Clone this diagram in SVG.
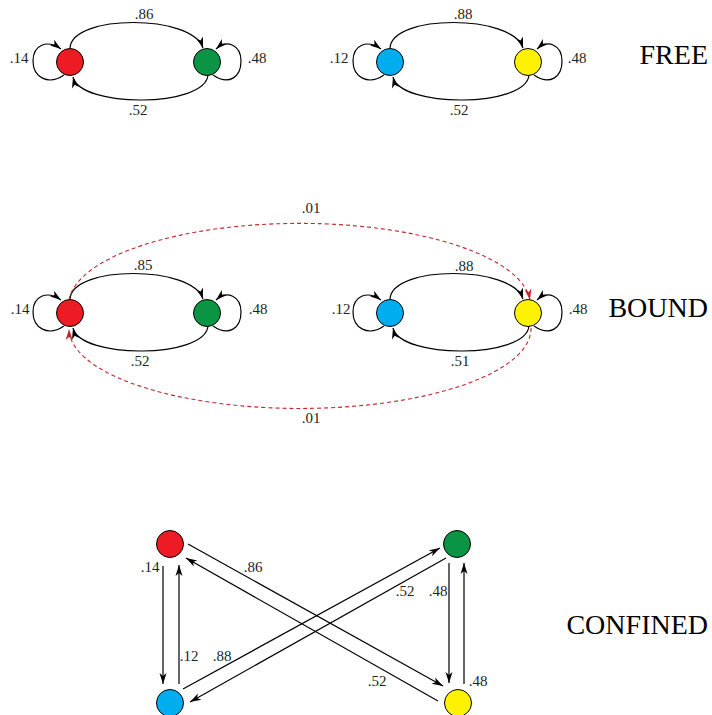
<svg xmlns="http://www.w3.org/2000/svg" width="712" height="715" viewBox="0 0 712 715">
<defs>
<style>
.n{stroke:#000;stroke-width:1}
.r{fill:#ed1c24}.g{fill:#0b9444}.b{fill:#00aeef}.y{fill:#fff200}
.c{fill:none;stroke:#000;stroke-width:1.2;marker-end:url(#ah)}
.d{fill:none;stroke:#c1272d;stroke-width:1.1;stroke-dasharray:4 3;marker-end:url(#ahr)}
.l{font-size:15px;fill:#231f20;text-anchor:middle}
.t{font-size:28px;fill:#000;text-anchor:end}
</style>
<marker id="ah" markerUnits="userSpaceOnUse" markerWidth="12" markerHeight="8" refX="11" refY="3.5" orient="auto" overflow="visible">
<path d="M0,0 L11,3.5 L0,7 L3,3.5 Z" fill="#000"/>
</marker>
<marker id="ahr" markerUnits="userSpaceOnUse" markerWidth="12" markerHeight="8" refX="11" refY="3.5" orient="auto" overflow="visible">
<path d="M0,0 L11,3.5 L0,7 L3,3.5 Z" fill="#c1272d"/>
</marker>
</defs>
<rect width="712" height="715" fill="#fff"/>

<g id="connectors">
<path class="c" d="M70,48 C72,14 192,14 203,48"/>
<path class="c" d="M208,75 C205,108 80,108 73,77"/>
<path class="c" d="M64,75 C48,86 33,77 33,61 C33,45 47,39 61,49"/>
<path class="c" d="M213,75 C229,86 241,77 241,61 C241,45 227,39 216,49"/>
<path class="c" d="M390,48 C392,14 512,14 523,48"/>
<path class="c" d="M529,75 C526,108 400,108 393,77"/>
<path class="c" d="M384,75 C368,86 353,77 353,61 C353,45 367,39 381,49"/>
<path class="c" d="M534,75 C550,86 562,77 562,61 C562,45 548,39 537,49"/>
<path class="c" d="M70,299 C72,265 192,265 203,299"/>
<path class="c" d="M208,326 C205,359 80,359 73,328"/>
<path class="c" d="M64,326 C48,337 33,328 33,312 C33,296 47,290 61,300"/>
<path class="c" d="M213,326 C229,337 241,328 241,312 C241,296 227,290 216,300"/>
<path class="c" d="M390,299 C392,265 512,265 523,299"/>
<path class="c" d="M529,326 C526,359 400,359 393,328"/>
<path class="c" d="M384,326 C368,337 353,328 353,312 C353,296 367,290 381,300"/>
<path class="c" d="M534,326 C550,337 562,328 562,312 C562,296 548,290 537,300"/>
<path class="d" d="M69,300 A231,82 0 0 1 530,300"/>
<path class="d" d="M531,328 A231,80 0 0 1 69,329"/>
<path class="c" d="M163,566 L163,684"/>
<path class="c" d="M179,684 L179,565"/>
<path class="c" d="M449,563 L449,683"/>
<path class="c" d="M464,684 L464,563"/>
<path class="c" d="M188,544 L443,686"/>
<path class="c" d="M438,701 L186,558"/>
<path class="c" d="M183,689 L440,548"/>
<path class="c" d="M446,558 L190,702"/>
</g>

<g id="free">
<g id="free-red"><circle class="n r" cx="70" cy="62" r="13.5"/></g>
<g id="free-green"><circle class="n g" cx="207" cy="62" r="13.5"/></g>
<g id="free-blue"><circle class="n b" cx="390" cy="62" r="13.5"/></g>
<g id="free-yellow"><circle class="n y" cx="528" cy="62" r="13.5"/></g>
</g>
<g id="bound">
<g id="bound-red"><circle class="n r" cx="70" cy="313" r="13.5"/></g>
<g id="bound-green"><circle class="n g" cx="207" cy="313" r="13.5"/></g>
<g id="bound-blue"><circle class="n b" cx="390" cy="313" r="13.5"/></g>
<g id="bound-yellow"><circle class="n y" cx="528" cy="313" r="13.5"/></g>
</g>
<g id="confined">
<g id="conf-red"><circle class="n r" cx="170" cy="544" r="13.5"/></g>
<g id="conf-green"><circle class="n g" cx="457" cy="544" r="13.5"/></g>
<g id="conf-blue"><circle class="n b" cx="170" cy="703" r="13.5"/></g>
<g id="conf-yellow"><circle class="n y" cx="458" cy="703" r="13.5"/></g>
</g>

<g id="labels" font-family="'Liberation Serif', 'DejaVu Serif', 'Times New Roman', serif">
<text class="l" x="144" y="19">.86</text>
<text class="l" x="138" y="115">.52</text>
<text class="l" x="19" y="63">.14</text>
<text class="l" x="257" y="63">.48</text>
<text class="l" x="339" y="63">.12</text>
<text class="l" x="463" y="19">.88</text>
<text class="l" x="459" y="115">.52</text>
<text class="l" x="577" y="63">.48</text>
<text class="l" x="311" y="213">.01</text>
<text class="l" x="143" y="270">.85</text>
<text class="l" x="20" y="314">.14</text>
<text class="l" x="258" y="314">.48</text>
<text class="l" x="140" y="366">.52</text>
<text class="l" x="311" y="423">.01</text>
<text class="l" x="341" y="314">.12</text>
<text class="l" x="464" y="271">.88</text>
<text class="l" x="460" y="366">.51</text>
<text class="l" x="578" y="314">.48</text>
<text class="l" x="150" y="572">.14</text>
<text class="l" x="253" y="572">.86</text>
<text class="l" x="189" y="661">.12</text>
<text class="l" x="222" y="661">.88</text>
<text class="l" x="405" y="596">.52</text>
<text class="l" x="438" y="596">.48</text>
<text class="l" x="377" y="686">.52</text>
<text class="l" x="478" y="686">.48</text>
</g>

<g id="titles" font-family="'Liberation Serif', 'DejaVu Serif', 'Times New Roman', serif">
<text class="t" x="708" y="64">FREE</text>
<text class="t" x="708" y="317">BOUND</text>
<text class="t" x="708" y="634">CONFINED</text>
</g>
</svg>
